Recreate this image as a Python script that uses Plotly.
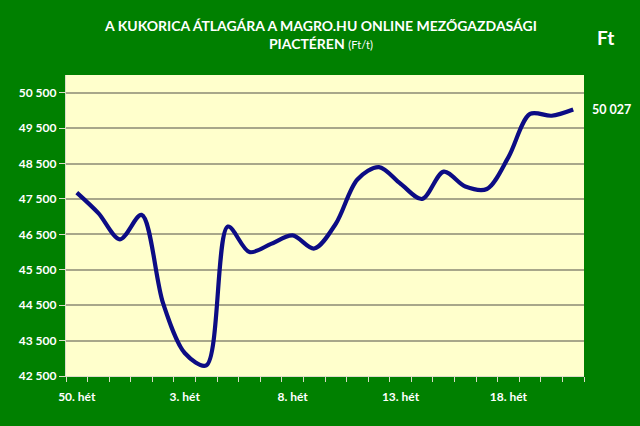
import plotly.graph_objects as go

weeks = [50, 51, 52, 1, 2, 3, 4, 5, 6, 7, 8, 9, 10, 11, 12, 13, 14, 15, 16, 17, 18, 19, 20, 21]
prices = [47680, 47100, 46360, 47050, 44550, 43150, 42800, 46720, 46000, 46230,
          46470, 46100, 46800, 48050, 48400, 47930, 47500, 48270, 47850, 47780,
          48680, 49900, 49850, 50027]
label_weeks = [50, 3, 8, 13, 18]
y_ticks = [42500, 43500, 44500, 45500, 46500, 47500, 48500, 49500, 50500]

x_idx = list(range(len(weeks)))
tick_idx = [weeks.index(w) for w in label_weeks]
tick_text = [f"{w}. hét" for w in label_weeks]
boundaries = [i - 0.5 for i in range(len(weeks) + 1)]

FONT = "Lato"
L, R, T, B = 66, 56, 75, 50
W, H = 640, 426
xr = [-0.5, len(weeks) - 0.5]
TICKC = "#dcdcc8"

fig = go.Figure()
fig.add_trace(go.Scatter(
    x=x_idx, y=prices, mode="lines",
    line=dict(color="#0c0c84", width=4.2, shape="spline", smoothing=0.9),
    hoverinfo="skip", showlegend=False,
))
fig.add_trace(go.Scatter(x=x_idx, y=prices, xaxis="x2", mode="lines",
                         line=dict(width=0), hoverinfo="skip", showlegend=False,
                         opacity=0))

last = f"{prices[-1]:,}".replace(",", " ")

fig.update_layout(
    width=W, height=H,
    paper_bgcolor="#008000", plot_bgcolor="#FFFFCC",
    margin=dict(l=L, r=R, t=T, b=B, autoexpand=False),
    separators=", ",
    font=dict(family=FONT, color="white", size=12),
    xaxis=dict(
        range=xr, tickmode="array", tickvals=boundaries,
        ticktext=[" "] * len(boundaries),
        ticks="outside", ticklen=5, tickwidth=1.3, tickcolor=TICKC,
        showgrid=False, zeroline=False, automargin=False,
        showline=True, linecolor=TICKC, linewidth=1.3,
    ),
    xaxis2=dict(
        range=xr, overlaying="x", side="bottom", anchor="y",
        tickmode="array", tickvals=tick_idx, ticktext=tick_text, ticks="",
        ticklabelstandoff=12,
        showgrid=False, zeroline=False, automargin=False, showline=False,
        tickfont=dict(family=FONT, size=12, color="white", weight="bold"),
    ),
    yaxis=dict(
        range=[42500, 51000],
        tickvals=y_ticks, tickformat=",d", automargin=False,
        ticks="outside", ticklen=6, tickwidth=1.3, tickcolor=TICKC,
        showgrid=True, gridcolor="#a8a78a", gridwidth=1.5,
        zeroline=False, showline=True, linecolor=TICKC, linewidth=1.3,
        tickfont=dict(family=FONT, size=12, color="white", weight="bold"),
    ),
    annotations=[
        dict(xref="paper", yref="paper", x=(320 - L) / (W - L - R), y=1,
             xanchor="center", yanchor="bottom",
             yshift=21, showarrow=False, align="center",
             text="<b>A KUKORICA ÁTLAGÁRA A MAGRO.HU ONLINE MEZŐGAZDASÁGI</b><br>"
                  "<b>PIACTÉREN</b> <span style='font-size:11px'>(Ft/t)</span>",
             font=dict(family=FONT, size=14, color="white")),
        dict(xref="paper", yref="paper", x=(605 - L) / (W - L - R),
             y=(H - B - 38) / (H - T - B), xanchor="center", yanchor="middle",
             showarrow=False,
             text="<b>Ft</b>", font=dict(family=FONT, size=19, color="white")),
        dict(xref="paper", yref="y", x=1, y=prices[-1], xanchor="left", yanchor="middle",
             xshift=6, showarrow=False,
             text=f"<b>{last}</b>", font=dict(family=FONT, size=12.5, color="white")),
    ],
)

fig.write_html("out.html", config={"displayModeBar": False},
               post_script="document.body.style.margin='0';document.body.style.overflow='hidden';")
